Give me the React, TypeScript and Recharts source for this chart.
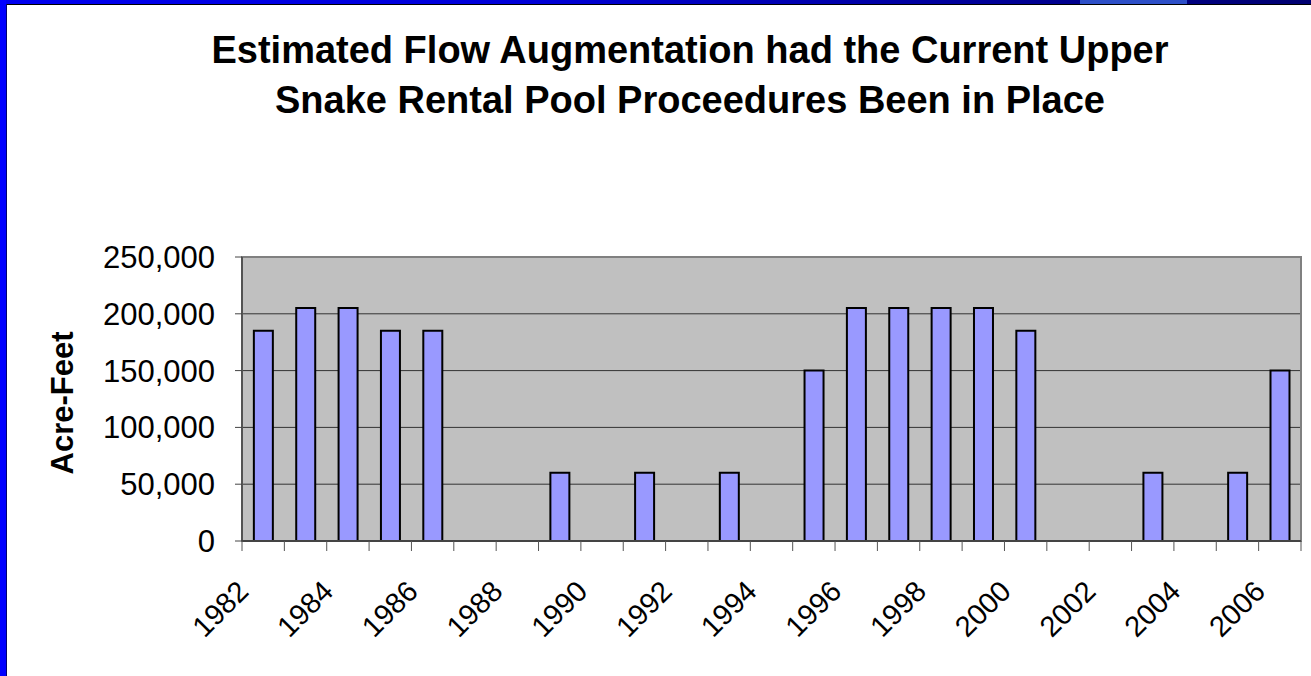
import React from "react";
import {
  Bar,
  BarChart,
  CartesianGrid,
  Label,
  ReferenceArea,
  XAxis,
  YAxis,
} from "recharts";

const years = [
  "1982", "1983", "1984", "1985", "1986", "1987", "1988", "1989", "1990",
  "1991", "1992", "1993", "1994", "1995", "1996", "1997", "1998", "1999",
  "2000", "2001", "2002", "2003", "2004", "2005", "2006",
];

const acreFeet = [
  185000, 205000, 205000, 185000, 185000, 0, 0, 60000, 0,
  60000, 0, 60000, 0, 150000, 205000, 205000, 205000, 205000,
  185000, 0, 0, 60000, 0, 60000, 150000,
];

const yTicks = [0, 50000, 100000, 150000, 200000, 250000];

const titleLines = [
  "Estimated Flow Augmentation had the Current Upper",
  "Snake Rental Pool Proceedures Been in Place",
];

const data = years.map((year, i) => ({ year, value: acreFeet[i] }));

const FONT = "'Liberation Sans', Arial, sans-serif";

// Excel style: tick marks sit between categories, labels on every other year
function YearTick(props: any) {
  const { x, y, payload, index } = props;
  const half = payload?.offset ?? 21.18;
  const isLast = index === years.length - 1;
  return (
    <g>
      <line x1={x - half} y1={y} x2={x - half} y2={y + 10} stroke="#555" strokeWidth={1} />
      {isLast && (
        <line x1={x + half} y1={y} x2={x + half} y2={y + 10} stroke="#555" strokeWidth={1} />
      )}
      {index % 2 === 0 && (
        <text
          x={x - 13}
          y={y + 52}
          textAnchor="end"
          fontSize={29}
          fontFamily={FONT}
          fill="#000"
          transform={`rotate(-45, ${x - 13}, ${y + 52})`}
        >
          {payload.value}
        </text>
      )}
    </g>
  );
}

export default function App() {
  return (
    <div
      style={{
        position: "absolute",
        left: 0,
        top: 0,
        width: 1311,
        height: 676,
        background: "#fff",
        overflow: "hidden",
        fontFamily: FONT,
      }}
    >
      {/* slide frame */}
      <div
        style={{
          position: "absolute",
          left: 0,
          top: 0,
          width: 1311,
          height: 4,
          background:
            "linear-gradient(90deg, #0000f0 0%, #0000d8 40%, #0000a0 70%, #000070 100%)",
        }}
      />
      <div
        style={{
          position: "absolute",
          left: 1080,
          top: 0,
          width: 107,
          height: 4,
          background: "#2d4fc8",
        }}
      />
      <div style={{ position: "absolute", left: 0, top: 4, width: 1311, height: 1, background: "#000" }} />
      <div style={{ position: "absolute", left: 0, top: 0, width: 6, height: 676, background: "#0000ff" }} />
      <div style={{ position: "absolute", left: 6, top: 4, width: 1, height: 672, background: "#000070" }} />

      {/* title */}
      <div
        style={{
          position: "absolute",
          left: 190,
          top: 25,
          width: 1000,
          textAlign: "center",
          fontSize: 38,
          lineHeight: "50px",
          fontWeight: "bold",
          color: "#000",
          whiteSpace: "nowrap",
        }}
      >
        {titleLines.map((l) => (
          <div key={l}>{l}</div>
        ))}
      </div>

      <div style={{ position: "absolute", left: 0, top: 0 }}>
        <BarChart
          width={1311}
          height={676}
          data={data}
          margin={{ top: 257, right: 10, left: 0, bottom: 105 }}
          barCategoryGap="28%"
        >
          <CartesianGrid vertical={false} stroke="#333" fill="#c0c0c0" fillOpacity={1} />
          <ReferenceArea
            y1={0}
            y2={250000}
            fill="none"
            stroke="#808080"
            strokeWidth={2}
            ifOverflow="visible"
          />
          <XAxis
            dataKey="year"
            interval={0}
            tickLine={false}
            tickSize={0}
            tickMargin={0}
            height={30}
            axisLine={{ stroke: "#444", strokeWidth: 2 }}
            tick={<YearTick />}
          />
          <YAxis
            width={242}
            domain={[0, 250000]}
            ticks={yTicks}
            tickSize={7}
            tickMargin={20}
            tickLine={{ stroke: "#444" }}
            axisLine={{ stroke: "#444", strokeWidth: 1.5 }}
            tick={{ fill: "#000", fontSize: 31, fontFamily: FONT }}
            tickFormatter={(v: number) => v.toLocaleString("en-US")}
          >
            <Label
              content={() => {
                const cx = 62;
                const cy = 403;
                return (
                  <text
                    x={cx}
                    y={cy}
                    textAnchor="middle"
                    dominantBaseline="central"
                    fontSize={31}
                    fontWeight="bold"
                    fontFamily={FONT}
                    fill="#000"
                    transform={`rotate(-90, ${cx}, ${cy})`}
                  >
                    Acre-Feet
                  </text>
                );
              }}
            />
          </YAxis>
          <Bar
            dataKey="value"
            fill="#9999ff"
            stroke="#000"
            strokeWidth={2}
            isAnimationActive={false}
          />
        </BarChart>
      </div>
    </div>
  );
}
